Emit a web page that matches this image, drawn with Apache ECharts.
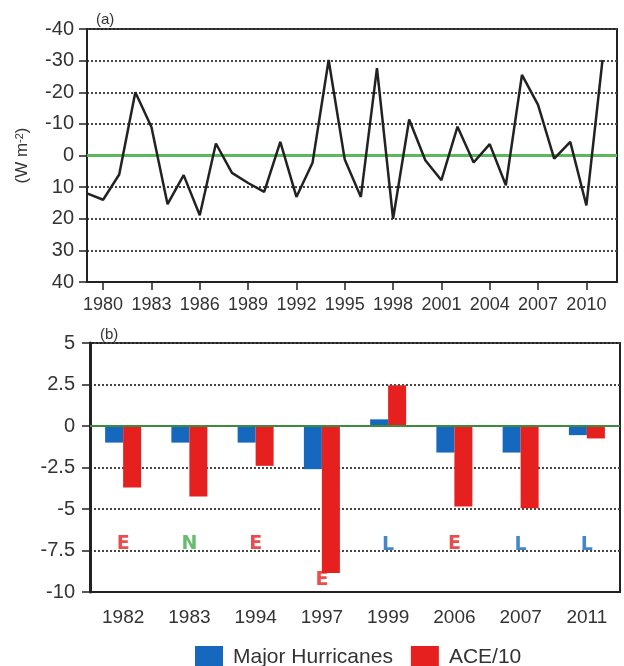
<!DOCTYPE html>
<html>
<head>
<meta charset="utf-8">
<script src="https://cdn.jsdelivr.net/npm/echarts@6/dist/echarts.min.js"></script>
<style>
html,body{margin:0;padding:0;background:#fff;}
#c{width:624px;height:666px;}
</style>
</head>
<body>
<div id="c"></div>
<script>
// ---- Panel (a) data ----
var years = [1979,1980,1981,1982,1983,1984,1985,1986,1987,1988,1989,1990,1991,1992,1993,1994,1995,1996,1997,1998,1999,2000,2001,2002,2003,2004,2005,2006,2007,2008,2009,2010,2011];
var radiation = [12,14,6,-20,-9,15.4,6.2,18.9,-3.8,5.5,8.7,11.5,-4.3,13.1,2.3,-30.2,1.3,13.1,-27.6,20,-11.4,1.5,7.8,-9.1,2.2,-3.6,9.4,-25.5,-16,1,-4.3,15.8,-30.2];
var yearTicks = [1980,1983,1986,1989,1992,1995,1998,2001,2004,2007,2010];

// ---- Panel (b) data ----
var caseYears = ['1982','1983','1994','1997','1999','2006','2007','2011'];
var majorHurricanes = [-1,-1,-1,-2.6,0.4,-1.6,-1.6,-0.55];
var ace10 = [-3.7,-4.25,-2.4,-8.85,2.45,-4.85,-4.95,-0.75];
var phaseLetters = ['E','N','E','E','L','E','L','L'];
var letterLevel = [-7.1,-7.1,-7.1,-9.3,-7.2,-7.1,-7.2,-7.2];

var letterColors = {E:'#e5201f', N:'#3fae49', L:'#1568bd'};
var textColor = '#333';
var fontFam = 'Liberation Sans, Arial, sans-serif';

var chart = echarts.init(document.getElementById('c'), null, {renderer:'canvas'});
chart.setOption({
  animation:false,
  backgroundColor:'#fff',
  textStyle:{fontFamily:fontFam},
  title:[
    {text:'(a)', left:91, top:7, textStyle:{fontSize:15, fontWeight:'normal', color:textColor, fontFamily:fontFam}},
    {text:'(b)', left:95, top:322, textStyle:{fontSize:15, fontWeight:'normal', color:textColor, fontFamily:fontFam}}
  ],
  grid:[
    {left:87, top:29, width:530, height:253, show:true, borderColor:'#222', borderWidth:2, backgroundColor:'transparent'},
    {left:90, top:343, width:530, height:249, show:true, borderColor:'#222', borderWidth:2, backgroundColor:'transparent'}
  ],
  xAxis:[
    {type:'value', gridIndex:0, min:1979, max:2011.9,
     axisLine:{show:true, onZero:false, lineStyle:{color:'#222', width:2}},
     axisTick:{show:true, customValues:yearTicks, length:8, lineStyle:{color:'#222', width:1.5}},
     axisLabel:{customValues:yearTicks, fontSize:18, color:textColor, margin:14, fontFamily:fontFam, formatter:function(v){return String(v);}},
     splitLine:{show:false}},
    {type:'category', gridIndex:1, data:caseYears,
     axisLine:{show:true, onZero:false, lineStyle:{color:'#222', width:2}},
     axisTick:{show:false},
     axisLabel:{fontSize:19, color:textColor, margin:16, fontFamily:fontFam},
     splitLine:{show:false}}
  ],
  yAxis:[
    {type:'value', gridIndex:0, min:-40, max:40, interval:10, inverse:true,
     name:'{a|(W m}{b|-2}{a|)}', nameLocation:'middle', nameRotate:90, nameGap:56,
     nameTextStyle:{color:textColor, rich:{a:{fontSize:17, color:textColor, fontFamily:fontFam}, b:{fontSize:11, color:textColor, verticalAlign:'top', fontFamily:fontFam}}},
     axisLine:{show:true, onZero:false, lineStyle:{color:'#222', width:2}},
     axisTick:{show:true, length:8, lineStyle:{color:'#222', width:1.5}},
     axisLabel:{fontSize:20, color:textColor, margin:13, fontFamily:fontFam},
     splitLine:{show:true, lineStyle:{type:'dotted', color:'#444', width:2}}},
    {type:'value', gridIndex:1, min:-10, max:5, interval:2.5,
     axisLine:{show:true, onZero:false, lineStyle:{color:'#222', width:3}},
     axisTick:{show:true, length:8, lineStyle:{color:'#222', width:1.5}},
     axisLabel:{fontSize:20, color:textColor, margin:15, fontFamily:fontFam},
     splitLine:{show:true, lineStyle:{type:'dotted', color:'#444', width:2}}}
  ],
  legend:{
    left:190, top:641, itemWidth:28, itemHeight:22, itemGap:18,
    icon:'rect',
    data:['Major Hurricanes','ACE/10'],
    textStyle:{fontSize:21, color:textColor, fontFamily:fontFam, padding:[0,0,0,5]}
  },
  series:[
    {type:'line', xAxisIndex:0, yAxisIndex:0, showSymbol:false,
     data: years.map(function(y,i){return [y, radiation[i]];}),
     lineStyle:{color:'#222', width:2.5}, z:5,
     markLine:{silent:true, symbol:'none', label:{show:false},
       lineStyle:{color:'#5cb85c', width:3, type:'solid'},
       data:[{yAxis:0}]}},
    {name:'Major Hurricanes', type:'bar', xAxisIndex:1, yAxisIndex:1, data:majorHurricanes,
     barWidth:18, barGap:'0%', itemStyle:{color:'#1568bd'},
     markLine:{silent:true, symbol:'none', label:{show:false},
       lineStyle:{color:'#3d8b3d', width:2, type:'solid'},
       data:[{yAxis:0}]}},
    {name:'ACE/10', type:'bar', xAxisIndex:1, yAxisIndex:1, data:ace10,
     barWidth:18, barGap:'0%', itemStyle:{color:'#e5201f'}},
    {type:'scatter', xAxisIndex:1, yAxisIndex:1, symbolSize:0, silent:true,
     data: caseYears.map(function(c,i){
       return {value:[c, letterLevel[i]],
               label:{show:true, position:'inside', formatter:phaseLetters[i],
                      color:letterColors[phaseLetters[i]], fontSize:19, fontWeight:'bold', fontFamily:'DejaVu Sans'}};
     }), z:6}
  ]
});
</script>
</body>
</html>
